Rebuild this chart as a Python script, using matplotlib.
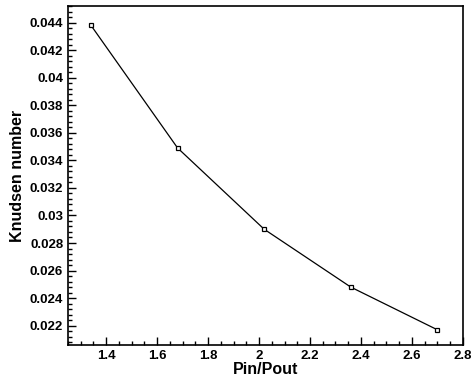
import matplotlib
matplotlib.use('Agg')
import matplotlib.pyplot as plt
from matplotlib.ticker import MultipleLocator

# razao de pressao entrada/saida e numero de Knudsen correspondente
razao_pressao = [1.34, 1.68, 2.02, 2.36, 2.70]
knudsen = [0.0438, 0.0349, 0.0290, 0.0248, 0.0217]

plt.rcParams['font.family'] = ['Liberation Sans', 'DejaVu Sans']

fig = plt.figure(figsize=(4.74, 3.77), dpi=100)
ax = fig.add_axes([0.1435, 0.085, 0.833, 0.899])

ax.plot(razao_pressao, knudsen, color='black', linewidth=0.9,
        marker='s', markersize=3.5, markerfacecolor='white',
        markeredgecolor='black', markeredgewidth=0.9)

ax.set_xlim(1.25, 2.8)
ax.set_ylim(0.0206, 0.0452)

ax.xaxis.set_major_locator(MultipleLocator(0.2))
ax.xaxis.set_minor_locator(MultipleLocator(0.05))
ax.yaxis.set_major_locator(MultipleLocator(0.002))
ax.yaxis.set_minor_locator(MultipleLocator(0.0004))

ax.xaxis.set_major_formatter(plt.FuncFormatter(lambda v, p: f'{v:g}'))
ax.yaxis.set_major_formatter(plt.FuncFormatter(lambda v, p: f'{round(v, 4):g}'))

ax.tick_params(which='both', direction='in', top=False, right=False,
               labelsize=9.5, width=1.0)
ax.tick_params(which='major', length=6)
ax.tick_params(which='minor', length=3)
for lab in ax.get_xticklabels() + ax.get_yticklabels():
    lab.set_fontweight('bold')

for s in ax.spines.values():
    s.set_linewidth(1.2)

ax.set_xlabel('Pin/Pout', fontsize=11.5, fontweight='bold', labelpad=0)
ax.set_ylabel('Knudsen number', fontsize=11.5, fontweight='bold', labelpad=3)

fig.savefig('out.png', dpi=100)
